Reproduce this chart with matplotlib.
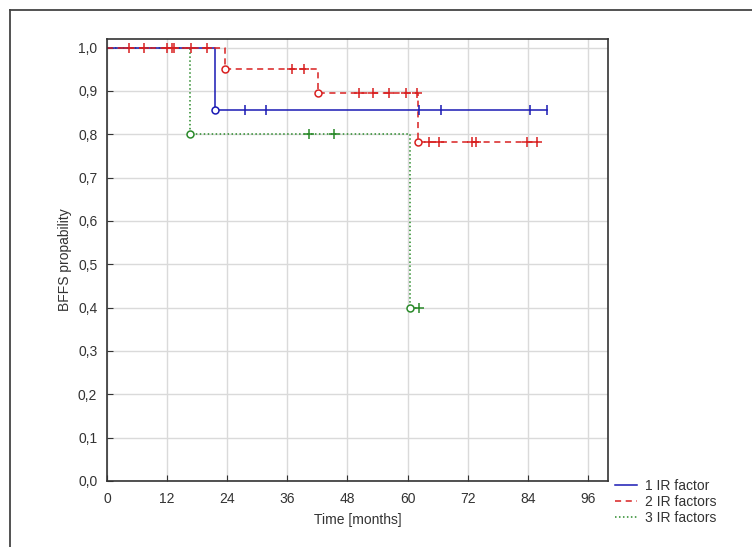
import matplotlib
matplotlib.use('Agg')
import matplotlib.pyplot as plt
from matplotlib.lines import Line2D

plt.rcParams['font.family'] = ['Liberation Sans', 'DejaVu Sans']

# step curves (time in months, BFFS probability)
t1 = [0, 21.6, 87.8]
s1 = [1.0, 0.857, 0.857]
t2 = [0, 23.6, 42.2, 62.1, 86.0]
s2 = [1.0, 0.951, 0.895, 0.783, 0.783]
t3 = [0, 16.6, 60.5, 62.3]
s3 = [1.0, 0.80, 0.40, 0.40]

# events (open circles)
ev1_t = [21.6]
ev1_s = [0.857]
ev2_t = [23.6, 42.2, 62.1]
ev2_s = [0.951, 0.895, 0.783]
ev3_t = [16.6, 60.5]
ev3_s = [0.80, 0.40]

# censored cases (+)
c1_t = [27.5, 31.7, 62.3, 66.7, 84.4, 87.8]
c1_s = [0.857, 0.857, 0.857, 0.857, 0.857, 0.857]
c2_t = [4.4, 7.4, 12.0, 12.9, 13.4, 16.8, 20.0, 37.0, 39.4,
        50.3, 53.1, 56.2, 59.6, 61.9, 64.2, 66.2, 72.9, 73.6, 83.9, 85.9]
c2_s = [1.0, 1.0, 1.0, 1.0, 1.0, 1.0, 1.0, 0.951, 0.951,
        0.895, 0.895, 0.895, 0.895, 0.895, 0.783, 0.783, 0.783, 0.783, 0.783, 0.783]
c3_t = [40.4, 45.3, 62.3]
c3_s = [0.80, 0.80, 0.40]

labels = ['1 IR factor', '2 IR factors', '3 IR factors']
blue = '#1a1ab4'
red = '#d82020'
green = '#2a8a2a'

xticks = [0, 12, 24, 36, 48, 60, 72, 84, 96]
yticks = [0.0, 0.1, 0.2, 0.3, 0.4, 0.5, 0.6, 0.7, 0.8, 0.9, 1.0]

fig = plt.figure(figsize=(7.52, 5.47), dpi=100)
ax = fig.add_axes([0.1423, 0.1207, 0.6662, 0.808])

dash2 = (0, (4, 3))
dot3 = (0, (1, 1.6))
ax.step(t3, s3, where='post', color=green, lw=1.1, ls=dot3)
ax.step(t1, s1, where='post', color=blue, lw=1.1)
ax.step(t2, s2, where='post', color=red, lw=1.1, ls=dash2)

ax.plot(ev3_t, ev3_s, 'o', mfc='white', mec=green, ms=5, mew=1.1)
ax.plot(ev1_t, ev1_s, 'o', mfc='white', mec=blue, ms=5, mew=1.1)
ax.plot(ev2_t, ev2_s, 'o', mfc='white', mec=red, ms=5, mew=1.1)

ax.plot(c3_t, c3_s, '+', color=green, ms=7, mew=1.1)
ax.plot(c1_t, c1_s, '|', color=blue, ms=7, mew=1.1)
ax.plot(c2_t, c2_s, '+', color=red, ms=7, mew=1.1)

ax.set_xlim(0, 100)
ax.set_ylim(0, 1.02)
ax.set_xticks(xticks)
ax.set_yticks(yticks)
ax.set_yticklabels([('%.1f' % v).replace('.', ',') for v in yticks])
ax.tick_params(direction='in', length=4, labelsize=10, colors='#333333')
ax.tick_params(axis='x', pad=8)
ax.tick_params(axis='y', pad=7)
ax.grid(True, color='#dadada', lw=1)
ax.set_axisbelow(True)
for sp in ax.spines.values():
    sp.set_color('#333333')
    sp.set_linewidth(1.2)

ax.set_xlabel('Time [months]', fontsize=10, color='#333333', labelpad=5)
ax.set_ylabel('BFFS propability', fontsize=10, color='#333333', labelpad=4)

handles = [Line2D([], [], color=blue, lw=1.1),
           Line2D([], [], color=red, lw=1.1, ls=dash2),
           Line2D([], [], color=green, lw=1.1, ls=dot3)]
fig.legend(handles, labels, loc='upper left', bbox_to_anchor=(0.8045, 0.143),
           frameon=False, fontsize=10, handlelength=1.6, handletextpad=0.55,
           labelspacing=0.15, labelcolor='#333333', borderpad=0.2)

# outer frame (left and top edges)
fig.add_artist(Line2D([0.0133, 0.0133], [0, 0.9817], color='#444444', lw=1.3))
fig.add_artist(Line2D([0.0133, 1.0], [0.9817, 0.9817], color='#444444', lw=1.3))

fig.savefig('out.png', dpi=100)
